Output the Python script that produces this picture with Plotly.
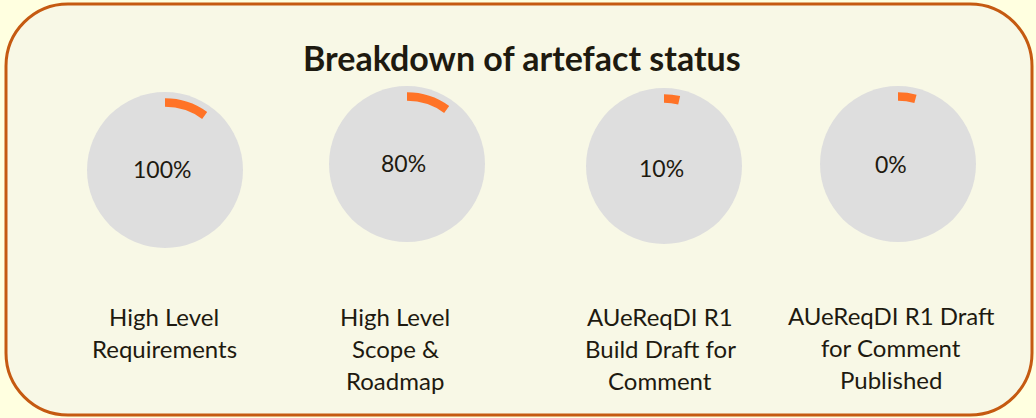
import plotly.graph_objects as go

# ---------------- data ----------------
title = "Breakdown of artefact status"
artefacts = [
    "High Level\nRequirements",
    "High Level\nScope &\nRoadmap",
    "AUeReqDI R1\nBuild Draft for\nComment",
    "AUeReqDI R1 Draft\nfor Comment\nPublished",
]
percent_labels = ["100%", "80%", "10%", "0%"]
arc_span_deg = [36, 36, 13, 15]   # orange arc length

# ---------------- layout (pixels) ----------------
W, H = 1036, 418
circle_cx = [165, 407, 664, 898]
circle_cy = [170, 164, 166, 164]
circle_r = 78
pct_x = [162, 403, 661, 891]
pct_y = [169, 163, 168, 164]
label_x = [164, 395, 660, 891]
label_y0 = [316, 316, 316, 315]
line_gap = 32

TEXT = "#1E1A10"
ORANGE = "#FF7327"
GREY = "#DEDEDE"
FONT = "Lato"


def fx(x):
    return x / W


def fy(y):
    return 1 - y / H


fig = go.Figure()

layout_extra = {}
for i, (cx, cy, span) in enumerate(zip(circle_cx, circle_cy, arc_span_deg)):
    name = "polar" if i == 0 else f"polar{i+1}"
    fig.add_trace(go.Barpolar(
        r=[0.11], base=[0.81], theta=[span / 2], width=[span],
        marker=dict(color=ORANGE, line=dict(width=0)),
        subplot=name, hoverinfo="skip", showlegend=False,
    ))
    layout_extra[name] = dict(
        domain=dict(x=[fx(cx - circle_r), fx(cx + circle_r)],
                    y=[fy(cy + circle_r), fy(cy - circle_r)]),
        bgcolor=GREY,
        radialaxis=dict(range=[0, 1], visible=False),
        angularaxis=dict(visible=False, rotation=90, direction="clockwise"),
    )

fig.update_layout(**layout_extra)

# rounded frame
x0, y0, x1, y1, rr = 6, 4, 1032, 415, 62
k = 0.5523 * rr
def P(x, y):
    return f"{fx(x)},{fy(y)}"
path = (
    f"M {P(x0 + rr, y0)} L {P(x1 - rr, y0)} "
    f"C {P(x1 - rr + k, y0)} {P(x1, y0 + rr - k)} {P(x1, y0 + rr)} "
    f"L {P(x1, y1 - rr)} "
    f"C {P(x1, y1 - rr + k)} {P(x1 - rr + k, y1)} {P(x1 - rr, y1)} "
    f"L {P(x0 + rr, y1)} "
    f"C {P(x0 + rr - k, y1)} {P(x0, y1 - rr + k)} {P(x0, y1 - rr)} "
    f"L {P(x0, y0 + rr)} "
    f"C {P(x0, y0 + rr - k)} {P(x0 + rr - k, y0)} {P(x0 + rr, y0)} Z"
)
fig.add_shape(type="path", path=path, xref="paper", yref="paper",
              fillcolor="#F8F8E6", line=dict(color="#C55A11", width=3),
              layer="below")

annotations = [dict(
    text=f"<b>{title}</b>", x=fx(522), y=fy(58), xref="paper", yref="paper",
    showarrow=False, xanchor="center", yanchor="middle",
    font=dict(family=FONT, size=34, color=TEXT),
)]
for t, x, y in zip(percent_labels, pct_x, pct_y):
    annotations.append(dict(
        text=t, x=fx(x), y=fy(y), xref="paper", yref="paper",
        showarrow=False, xanchor="center", yanchor="middle",
        font=dict(family=FONT, size=23, color=TEXT),
    ))
for lab, x, y in zip(artefacts, label_x, label_y0):
    for j, line in enumerate(lab.split("\n")):
        annotations.append(dict(
            text=line, x=fx(x), y=fy(y + j * line_gap), xref="paper", yref="paper",
            showarrow=False, xanchor="center", yanchor="middle",
            font=dict(family=FONT, size=24, color=TEXT),
        ))

fig.update_layout(
    width=W, height=H, margin=dict(l=0, r=0, t=0, b=0),
    paper_bgcolor="#FFFFE0", plot_bgcolor="rgba(0,0,0,0)",
    annotations=annotations, showlegend=False,
)

fig.write_html(
    "out.html",
    config={"displayModeBar": False},
    post_script="document.body.style.margin='0';document.body.style.padding='0';",
)
